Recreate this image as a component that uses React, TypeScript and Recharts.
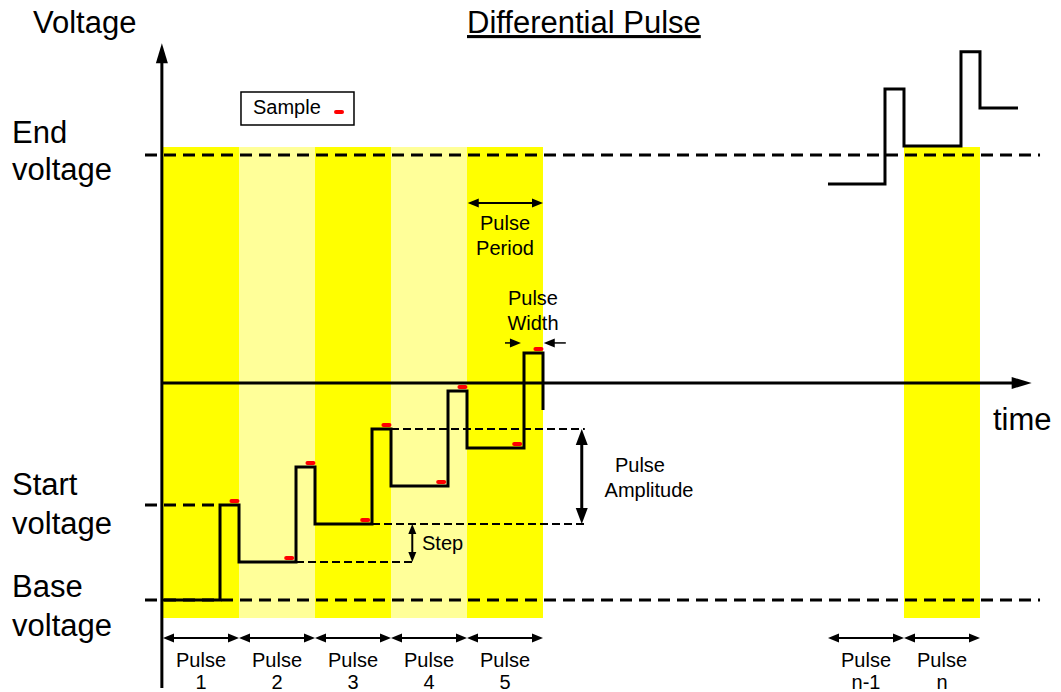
import React from 'react';
import { ComposedChart, XAxis, YAxis, Line, Scatter, ReferenceArea, ReferenceLine, ReferenceDot } from 'recharts';

const FONT = '"Liberation Sans", Arial, sans-serif';

// x = time in pulse periods, y = voltage in step units
const T_DOMAIN = [-2.145, 11.816];
const V_DOMAIN = [-4.842, 31.579];

const BASE_V = 0;
const START_V = 5;
const END_V = 23.42;
const TIME_AXIS_V = 11.42;

// first five pulses (stepAfter corners)
const wave = [
    { t: 0, v: 0 }, { t: 0.75, v: 5 },
    { t: 1, v: 2 }, { t: 1.75, v: 7 },
    { t: 2, v: 4 }, { t: 2.75, v: 9 },
    { t: 3, v: 6 }, { t: 3.75, v: 11 },
    { t: 4, v: 8 }, { t: 4.75, v: 13 },
    { t: 5, v: 10 },
];

// last pulses (n-1, n)
const waveEnd = [
    { t: 8.75, v: 21.9 }, { t: 9.5, v: 26.9 },
    { t: 9.75, v: 23.9 }, { t: 10.5, v: 28.85 },
    { t: 10.75, v: 25.9 }, { t: 11.25, v: 25.9 },
];

const samples = [
    { t: 0.66, v: 0 }, { t: 0.94, v: 5 },
    { t: 1.66, v: 2 }, { t: 1.94, v: 7 },
    { t: 2.66, v: 4 }, { t: 2.94, v: 9 },
    { t: 3.66, v: 6 }, { t: 3.94, v: 11 },
    { t: 4.66, v: 8 }, { t: 4.94, v: 13 },
];

const bands = [
    { from: 0, to: 1, shade: 'strong' },
    { from: 1, to: 2, shade: 'light' },
    { from: 2, to: 3, shade: 'strong' },
    { from: 3, to: 4, shade: 'light' },
    { from: 4, to: 5, shade: 'strong' },
    { from: 9.75, to: 10.75, shade: 'strong' },
];

const pulses = [
    { name: '1', from: 0, to: 1 },
    { name: '2', from: 1, to: 2 },
    { name: '3', from: 2, to: 3 },
    { name: '4', from: 3, to: 4 },
    { name: '5', from: 4, to: 5 },
    { name: 'n-1', from: 8.75, to: 9.75 },
    { name: 'n', from: 9.75, to: 10.75 },
];

const SHADES: Record<string, string> = { strong: '#FFFF00', light: '#FFFF99' };

const bigText = [
    { text: 'Voltage', t: -1.711, v: 29.84 },
    { text: 'End', t: -1.987, v: 24.05 },
    { text: 'voltage', t: -1.987, v: 22.1 },
    { text: 'Start', t: -1.987, v: 5.53 },
    { text: 'voltage', t: -1.987, v: 3.47 },
    { text: 'Base', t: -1.987, v: 0.16 },
    { text: 'voltage', t: -1.987, v: -1.89 },
    { text: 'time', t: 10.92, v: 8.95 },
];

const smallText = [
    { text: 'Sample', t: 1.184, v: 25.58, anchor: 'start' },
    { text: 'Pulse', t: 4.5, v: 19.47, anchor: 'middle' },
    { text: 'Period', t: 4.5, v: 18.16, anchor: 'middle' },
    { text: 'Pulse', t: 4.868, v: 15.53, anchor: 'middle' },
    { text: 'Width', t: 4.868, v: 14.21, anchor: 'middle' },
    { text: 'Pulse', t: 6.276, v: 6.74, anchor: 'middle' },
    { text: 'Amplitude', t: 6.395, v: 5.42, anchor: 'middle' },
    { text: 'Step', t: 3.408, v: 2.63, anchor: 'start' },
];

const arrowShape = (heads: 'end' | 'both', w: number, hl: number, hw: number) => (p: any) => {
    const { x1, y1, x2, y2 } = p;
    const dx = x2 - x1, dy = y2 - y1;
    const len = Math.hypot(dx, dy) || 1;
    const ux = dx / len, uy = dy / len;
    const head = (tx: number, ty: number, ax: number, ay: number) => {
        const bx = tx - ax * hl, by = ty - ay * hl;
        return <polygon points={`${tx},${ty} ${bx - ay * hw},${by + ax * hw} ${bx + ay * hw},${by - ax * hw}`} fill="#000" />;
    };
    const sx = heads === 'both' ? x1 + ux * hl * 0.7 : x1;
    const sy = heads === 'both' ? y1 + uy * hl * 0.7 : y1;
    return (
        <g>
            <line x1={sx} y1={sy} x2={x2 - ux * hl * 0.7} y2={y2 - uy * hl * 0.7} stroke="#000" strokeWidth={w} />
            {heads === 'both' && head(x1, y1, -ux, -uy)}
            {head(x2, y2, ux, uy)}
        </g>
    );
};

const textLabel = (text: string, size: number, anchor: string) => ({
    content: (p: any) => (
        <text x={p.viewBox.x} y={p.viewBox.y} fontSize={size} fontFamily={FONT} fill="#000" textAnchor={anchor}>
            {text}
        </text>
    ),
});

const sampleShape = (p: any) => (
    <rect x={p.cx - 5} y={p.cy - 6} width={10} height={4} rx={2} fill="#FF0000" />
);

const noDot = () => <g />;

export default function App() {
    return (
        <div style={{ position: 'absolute', left: 0, top: 0, background: '#fff' }}>
            <ComposedChart width={1061} height={692} margin={{ top: 0, right: 0, bottom: 0, left: 0 }}>
                <XAxis type="number" dataKey="t" domain={T_DOMAIN} allowDataOverflow hide />
                <YAxis type="number" dataKey="v" domain={V_DOMAIN} allowDataOverflow hide />

                {bands.map((b, i) => (
                    <ReferenceArea key={`band-${i}`} x1={b.from} x2={b.to} y1={-0.95} y2={23.84}
                        fill={SHADES[b.shade]} fillOpacity={1} stroke="none" />
                ))}

                {/* level lines */}
                <ReferenceLine segment={[{ x: -0.237, y: END_V }, { x: 11.54, y: END_V }]} stroke="#000" strokeWidth={3} strokeDasharray="12 7" />
                <ReferenceLine segment={[{ x: -0.237, y: BASE_V }, { x: 11.54, y: BASE_V }]} stroke="#000" strokeWidth={3} strokeDasharray="12 7" />
                <ReferenceLine segment={[{ x: -0.237, y: START_V }, { x: 0.75, y: START_V }]} stroke="#000" strokeWidth={3} strokeDasharray="12 7" />
                <ReferenceLine segment={[{ x: 1.75, y: 2 }, { x: 3.28, y: 2 }]} stroke="#000" strokeWidth={2} strokeDasharray="8 4" />
                <ReferenceLine segment={[{ x: 2.75, y: 4 }, { x: 5.55, y: 4 }]} stroke="#000" strokeWidth={2} strokeDasharray="8 4" />
                <ReferenceLine segment={[{ x: 3, y: 9 }, { x: 5.55, y: 9 }]} stroke="#000" strokeWidth={2} strokeDasharray="8 4" />

                {/* axes */}
                <ReferenceLine segment={[{ x: -0.015, y: -4.63 }, { x: -0.015, y: 29.3 }]} shape={arrowShape('end', 3, 20, 6)} />
                <ReferenceLine segment={[{ x: -0.015, y: TIME_AXIS_V }, { x: 11.43, y: TIME_AXIS_V }]} shape={arrowShape('end', 3, 20, 6)} />

                <Line data={wave} dataKey="v" type="stepAfter" stroke="#000" strokeWidth={3} dot={false} activeDot={false} legendType="none" isAnimationActive={false} />
                <Line data={waveEnd} dataKey="v" type="stepAfter" stroke="#000" strokeWidth={3} dot={false} activeDot={false} legendType="none" isAnimationActive={false} />
                <Scatter data={samples} dataKey="v" shape={sampleShape} activeShape={noDot} legendType="none" isAnimationActive={false} />

                {/* annotation arrows */}
                {pulses.map((p, i) => (
                    <ReferenceLine key={`pa-${i}`} segment={[{ x: p.from, y: -2 }, { x: p.to, y: -2 }]} shape={arrowShape('both', 2, 11, 4.5)} />
                ))}
                <ReferenceLine segment={[{ x: 4.01, y: 20.89 }, { x: 5.0, y: 20.89 }]} shape={arrowShape('both', 2, 11, 4.5)} />
                <ReferenceLine segment={[{ x: 4.5, y: 13.53 }, { x: 4.71, y: 13.53 }]} shape={arrowShape('end', 1.5, 11, 4.5)} />
                <ReferenceLine segment={[{ x: 5.3, y: 13.53 }, { x: 5.01, y: 13.53 }]} shape={arrowShape('end', 1.5, 11, 4.5)} />
                <ReferenceLine segment={[{ x: 5.51, y: 9 }, { x: 5.51, y: 4 }]} shape={arrowShape('both', 3, 16, 6)} />
                <ReferenceLine segment={[{ x: 3.28, y: 4 }, { x: 3.28, y: 2 }]} shape={arrowShape('both', 2, 10, 4)} />

                {/* sample legend */}
                <ReferenceArea x1={1.026} x2={2.513} y1={25} y2={26.74} fill="#fff" fillOpacity={1} stroke="#000" strokeWidth={1.5} />
                <ReferenceDot x={2.316} y={25.47} r={0} shape={sampleShape} />

                {/* texts */}
                {bigText.map((b, i) => (
                    <ReferenceDot key={`bt-${i}`} x={b.t} y={b.v} r={0} shape={noDot} label={textLabel(b.text, 31, 'start')} />
                ))}
                <ReferenceDot x={4.0} y={29.84} r={0} shape={noDot} label={{
                    content: (p: any) => (
                        <text x={p.viewBox.x} y={p.viewBox.y} fontSize={31} fontFamily={FONT} fill="#000" textDecoration="underline">
                            Differential Pulse
                        </text>
                    ),
                }} />
                {smallText.map((s, i) => (
                    <ReferenceDot key={`st-${i}`} x={s.t} y={s.v} r={0} shape={noDot} label={textLabel(s.text, 20, s.anchor)} />
                ))}
                {pulses.map((p, i) => (
                    <ReferenceDot key={`pl-${i}`} x={(p.from + p.to) / 2} y={-3.53} r={0} shape={noDot} label={textLabel('Pulse', 20, 'middle')} />
                ))}
                {pulses.map((p, i) => (
                    <ReferenceDot key={`pn-${i}`} x={(p.from + p.to) / 2} y={-4.68} r={0} shape={noDot} label={textLabel(p.name, 20, 'middle')} />
                ))}
            </ComposedChart>
        </div>
    );
}
